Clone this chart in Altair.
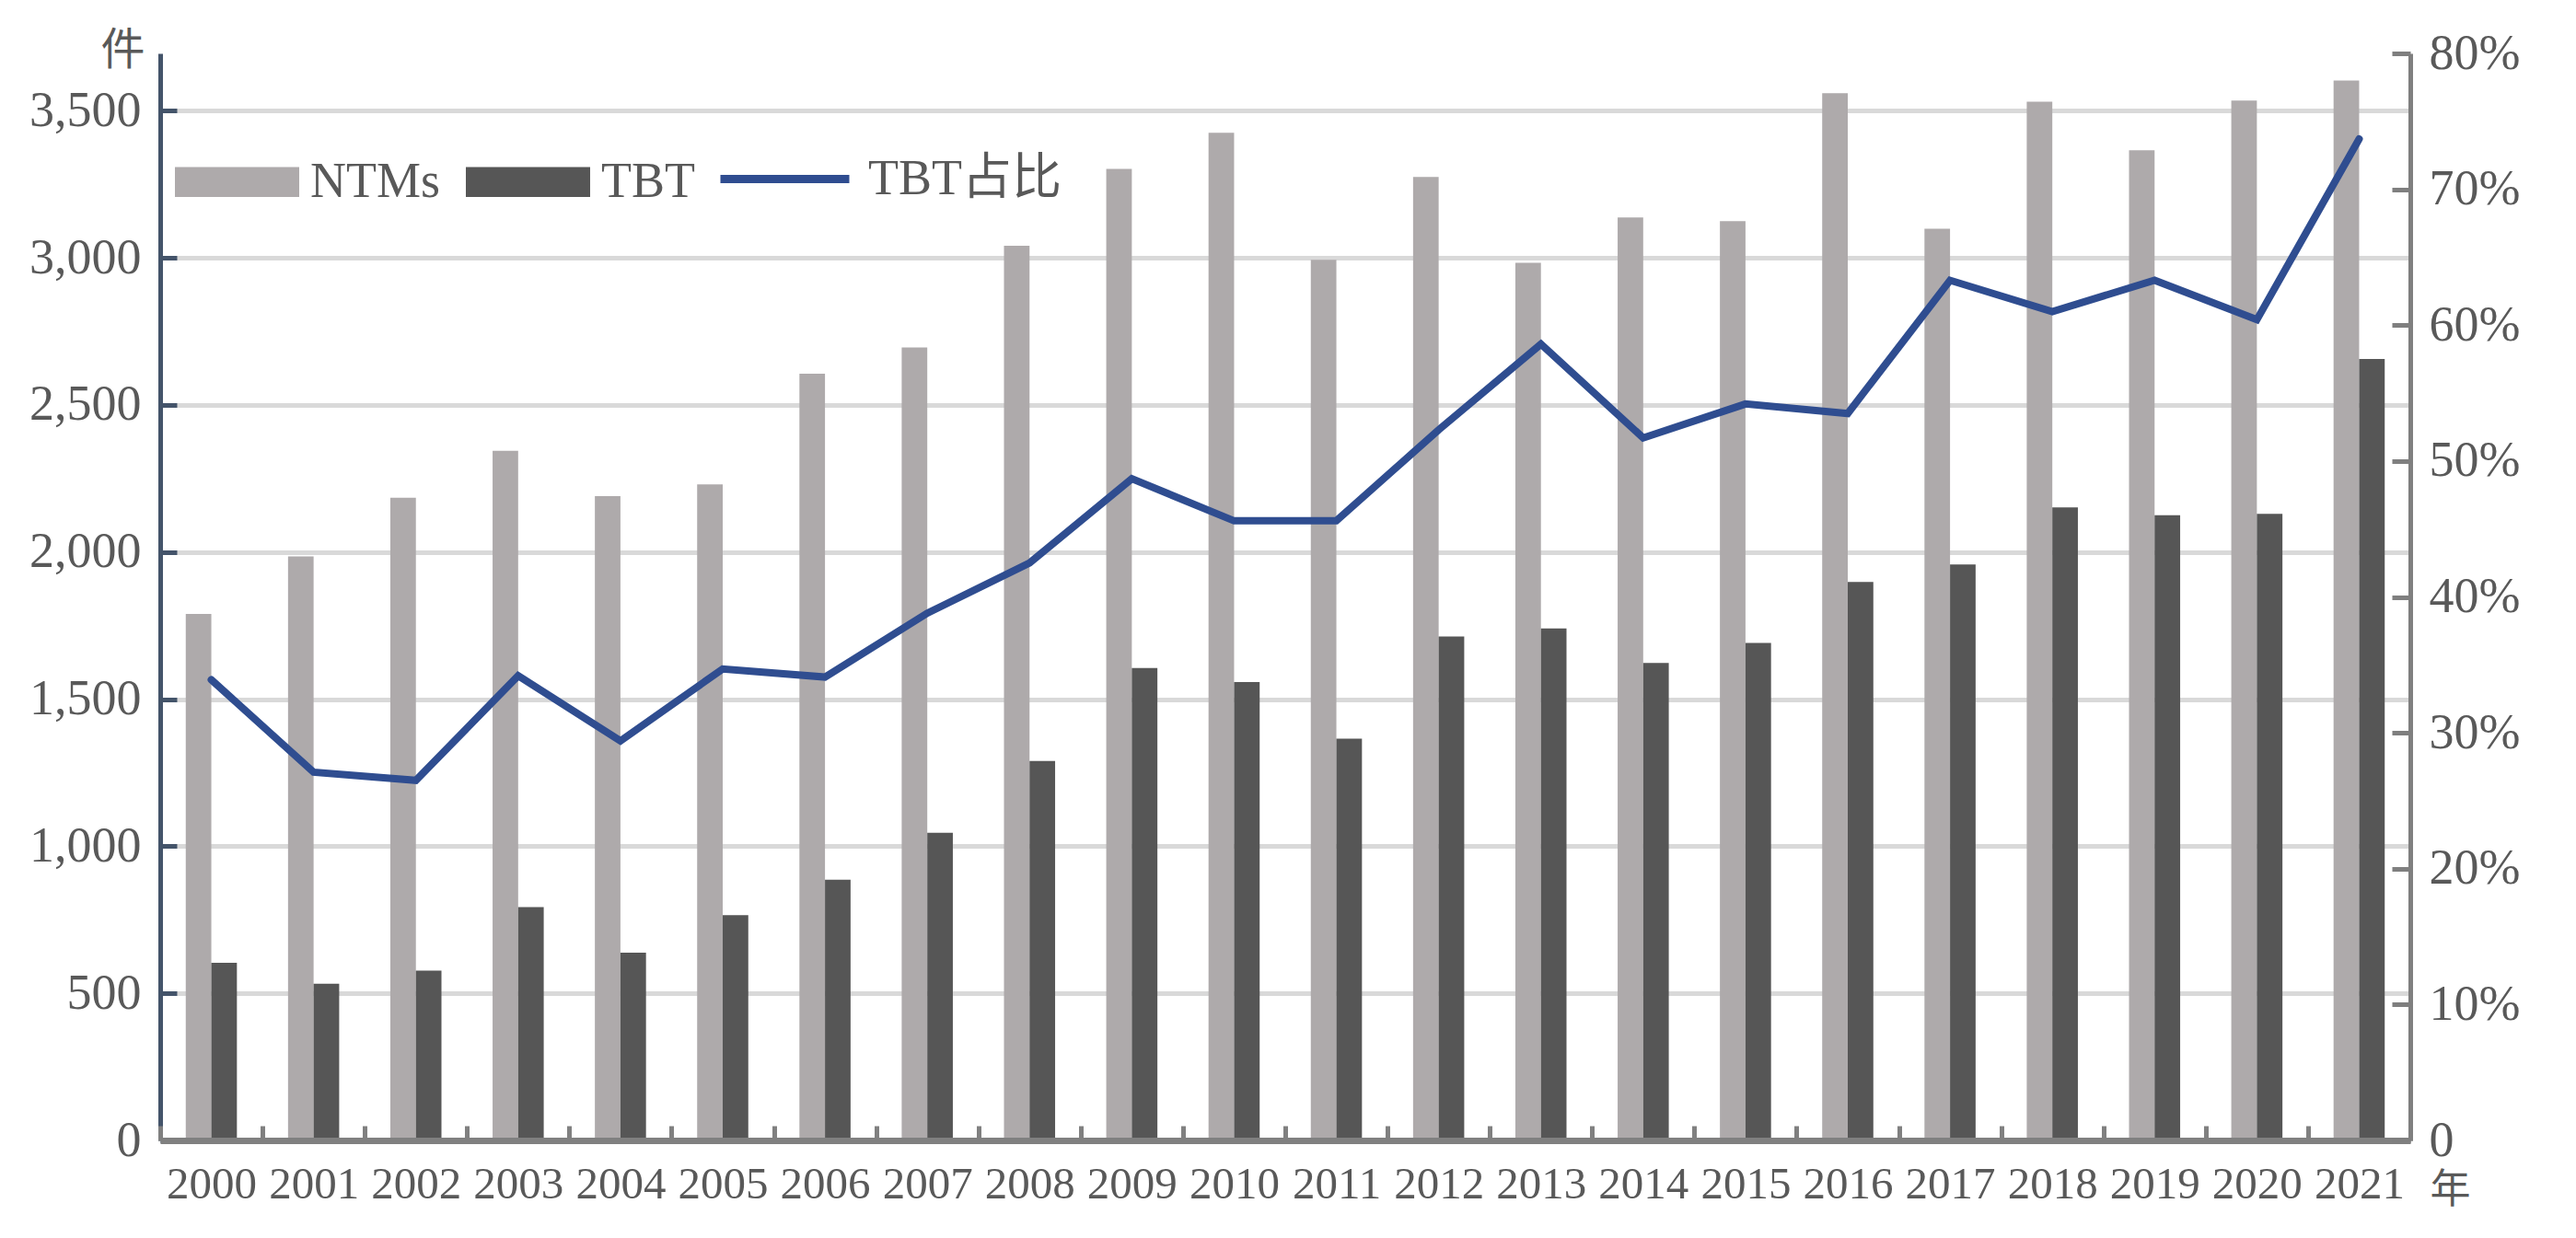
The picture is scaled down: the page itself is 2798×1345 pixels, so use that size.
import altair as alt
import pandas as pd

years = [str(y) for y in range(2000, 2022)]
ntms = [1790, 1985, 2185, 2344, 2190, 2230, 2606, 2695, 3041, 3302, 3425, 2993, 3275, 2983, 3137, 3125, 3560, 3099, 3531, 3366, 3535, 3603]
tbt = [604, 533, 577, 793, 638, 766, 886, 1046, 1290, 1606, 1558, 1366, 1713, 1740, 1623, 1691, 1898, 1958, 2152, 2125, 2130, 2656]
tbt_share = [33.9, 27.1, 26.5, 34.2, 29.4, 34.7, 34.1, 38.8, 42.5, 48.7, 45.6, 45.6, 52.3, 58.6, 51.7, 54.2, 53.5, 63.3, 61.0, 63.3, 60.4, 73.7]
series_names = ["NTMs", "TBT"]
share_name = "TBT占比"
left_ticks = [0, 500, 1000, 1500, 2000, 2500, 3000, 3500]
right_ticks = [0, 0.1, 0.2, 0.3, 0.4, 0.5, 0.6, 0.7, 0.8]

bar_colors = ["#AEAAAB", "#565656"]
line_color = "#2F4D90"
FONT = "Liberation Serif, Noto Sans CJK SC"
TXT = "#595959"

bars_df = pd.DataFrame({
    "year": years * 2,
    "series": [series_names[0]] * len(years) + [series_names[1]] * len(years),
    "value": ntms + tbt,
})
line_df = pd.DataFrame({
    "year": years,
    "share": [v / 100 for v in tbt_share],
    "label": [share_name] * len(years),
})

x_enc = alt.X(
    "year:N", sort=years,
    scale=alt.Scale(paddingInner=0, paddingOuter=0),
    axis=alt.Axis(
        title="年", titleAngle=0, titleX=2487, titleY=54, titleAlign="center",
        titleBaseline="middle", titleFont=FONT, titleFontSize=44,
        titleFontWeight="normal", titleColor=TXT,
        labelFont=FONT, labelFontSize=49, labelColor=TXT, labelAngle=0,
        labelBaseline="middle", labelPadding=63,
        tickBand="extent", tickSize=alt.ExprRef(expr="-16"), tickWidth=5,
        tickColor="#808080", domainColor="#808080", domainWidth=7,
        grid=False, zindex=1,
    ),
)

bars = alt.Chart(bars_df).mark_bar().encode(
    x=x_enc,
    xOffset=alt.XOffset("series:N", sort=series_names,
                        scale=alt.Scale(paddingInner=0, paddingOuter=alt.ExprRef(expr="1.13"))),
    y=alt.Y(
        "value:Q",
        scale=alt.Scale(domain=[0, 3695], nice=False),
        axis=alt.Axis(
            orient="left", values=left_ticks, format=",.0f",
            title="件", titleAngle=0, titleX=-41, titleY=-3, titleAlign="center",
            titleBaseline="middle", titleFont=FONT, titleFontSize=48,
            titleFontWeight="normal", titleColor=TXT,
            labelFont=FONT, labelFontSize=54, labelColor=TXT, labelPadding=39,
            tickSize=alt.ExprRef(expr="-18"), tickWidth=5, tickColor="#44546A",
            domainColor="#44546A", domainWidth=5,
            grid=True, gridColor="#D9D9D9", gridWidth=5,
        ),
    ),
    color=alt.Color(
        "series:N", sort=series_names,
        scale=alt.Scale(domain=series_names, range=bar_colors),
        legend=alt.Legend(
            title=None, orient="none", legendX=16, legendY=72,
            direction="horizontal", symbolType="M-1,-0.24H1V0.24H-1Z",
            symbolSize=18225, symbolStrokeWidth=0, symbolOpacity=1,
            labelFont=FONT, labelFontSize=54, labelColor=TXT, labelLimit=400,
            labelOffset=12, columnPadding=27, padding=0,
        ),
    ),
)

line = alt.Chart(line_df).mark_line(strokeWidth=8, strokeCap="round").encode(
    x=x_enc,
    y=alt.Y(
        "share:Q",
        scale=alt.Scale(domain=[0, 0.8], nice=False),
        axis=alt.Axis(
            orient="right", values=right_ticks, title=None,
            labelExpr="datum.value == 0 ? '0' : format(datum.value, '.0%')",
            labelFont=FONT, labelFontSize=54, labelColor=TXT, labelPadding=40,
            tickSize=alt.ExprRef(expr="-20"), tickWidth=5, tickColor="#7F7F7F",
            domainColor="#7F7F7F", domainWidth=5, grid=False, zindex=1,
        ),
    ),
    stroke=alt.Stroke(
        "label:N",
        scale=alt.Scale(domain=[share_name], range=[line_color]),
        legend=alt.Legend(
            title=None, orient="none", legendX=604, legendY=62,
            symbolType="stroke", symbolSize=19600, symbolStrokeWidth=9,
            labelFont=FONT, labelFontSize=54, labelColor=TXT, labelLimit=400,
            labelOffset=16, padding=0,
        ),
    ),
)

chart = alt.layer(bars, line).resolve_scale(y="independent").properties(
    width=2444, height=1181,
    padding={"left": 23, "top": 23, "right": 10, "bottom": 10},
    background="white",
).configure_view(stroke="transparent")

chart.save("out.html", embed_options={"renderer": "svg", "actions": False})
